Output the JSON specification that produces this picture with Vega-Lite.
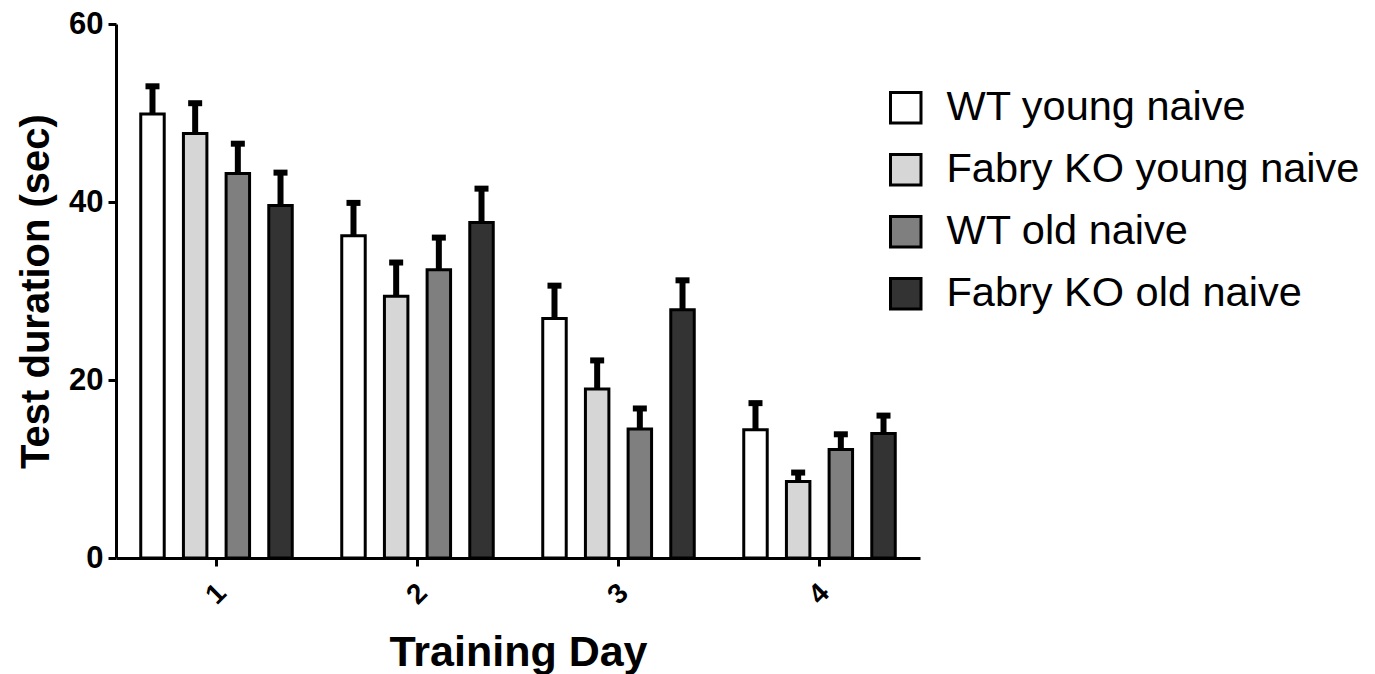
{
  "$schema": "https://vega.github.io/schema/vega-lite/v6.json",
  "width": 804,
  "height": 534,
  "autosize": {"type": "none"},
  "padding": {"left": 116, "top": 24, "right": 455, "bottom": 116},
  "background": "white",
  "config": {
    "font": "Liberation Sans",
    "view": {"stroke": null},
    "axis": {"grid": false, "domainColor": "black", "domainWidth": 3, "tickColor": "black", "tickWidth": 3, "tickSize": 8, "labelColor": "black", "titleColor": "black", "labelFontWeight": "bold", "titleFontWeight": "bold"}
  },
  "data": {
    "values": [
      {"day": "1", "group": "WT young naive", "mean": 49.9, "upper": 53.0},
      {"day": "1", "group": "Fabry KO young naive", "mean": 47.7, "upper": 51.1},
      {"day": "1", "group": "WT old naive", "mean": 43.2, "upper": 46.55},
      {"day": "1", "group": "Fabry KO old naive", "mean": 39.6, "upper": 43.3},
      {"day": "2", "group": "WT young naive", "mean": 36.2, "upper": 39.9},
      {"day": "2", "group": "Fabry KO young naive", "mean": 29.4, "upper": 33.2},
      {"day": "2", "group": "WT old naive", "mean": 32.4, "upper": 36.0},
      {"day": "2", "group": "Fabry KO old naive", "mean": 37.7, "upper": 41.5},
      {"day": "3", "group": "WT young naive", "mean": 26.9, "upper": 30.6},
      {"day": "3", "group": "Fabry KO young naive", "mean": 19.0, "upper": 22.2},
      {"day": "3", "group": "WT old naive", "mean": 14.5, "upper": 16.8},
      {"day": "3", "group": "Fabry KO old naive", "mean": 27.9, "upper": 31.2},
      {"day": "4", "group": "WT young naive", "mean": 14.4, "upper": 17.4},
      {"day": "4", "group": "Fabry KO young naive", "mean": 8.6, "upper": 9.6},
      {"day": "4", "group": "WT old naive", "mean": 12.2, "upper": 13.9},
      {"day": "4", "group": "Fabry KO old naive", "mean": 14.0, "upper": 16.0}
    ]
  },
  "encoding": {
    "x": {
      "field": "day", "type": "nominal",
      "scale": {"paddingInner": 0, "paddingOuter": 0},
      "axis": {"title": "Training Day", "titleFontSize": 43, "labelAngle": -45, "labelFontSize": 28, "labelAlign": "center", "labelBaseline": "middle", "labelPadding": 28, "titlePadding": 22}
    },
    "xOffset": {
      "field": "group", "type": "nominal",
      "sort": ["WT young naive", "Fabry KO young naive", "WT old naive", "Fabry KO old naive"],
      "scale": {"paddingInner": 0.45, "paddingOuter": 0.58}
    },
    "y": {
      "field": "mean", "type": "quantitative",
      "scale": {"domain": [0, 60], "nice": false},
      "axis": {"title": "Test duration (sec)", "titleFontSize": 40, "values": [0, 20, 40, 60], "labelFontSize": 31, "labelPadding": 5, "titlePadding": 12}
    }
  },
  "layer": [
    {
      "mark": {"type": "rule", "color": "black", "strokeWidth": 6},
      "encoding": {
        "y2": {"field": "upper"}
      }
    },
    {
      "mark": {"type": "bar", "stroke": "black", "strokeWidth": 3},
      "encoding": {
        "color": {
          "field": "group", "type": "nominal",
          "scale": {
            "domain": ["WT young naive", "Fabry KO young naive", "WT old naive", "Fabry KO old naive"],
            "range": ["#ffffff", "#d6d6d6", "#7f7f7f", "#333333"]
          },
          "legend": {
            "title": null,
            "orient": "none",
            "legendX": 769,
            "legendY": 63,
            "symbolType": "square",
            "symbolSize": 930,
            "symbolStrokeColor": "black",
            "symbolStrokeWidth": 3,
            "symbolOpacity": 1,
            "labelFontSize": 41.5,
            "labelColor": "black",
            "labelOffset": 20,
            "rowPadding": 19,
            "labelLimit": 600
          }
        }
      }
    },
    {
      "mark": {"type": "tick", "color": "black", "thickness": 6, "size": 14, "opacity": 1},
      "encoding": {
        "y": {"field": "upper", "type": "quantitative"}
      }
    }
  ]
}
